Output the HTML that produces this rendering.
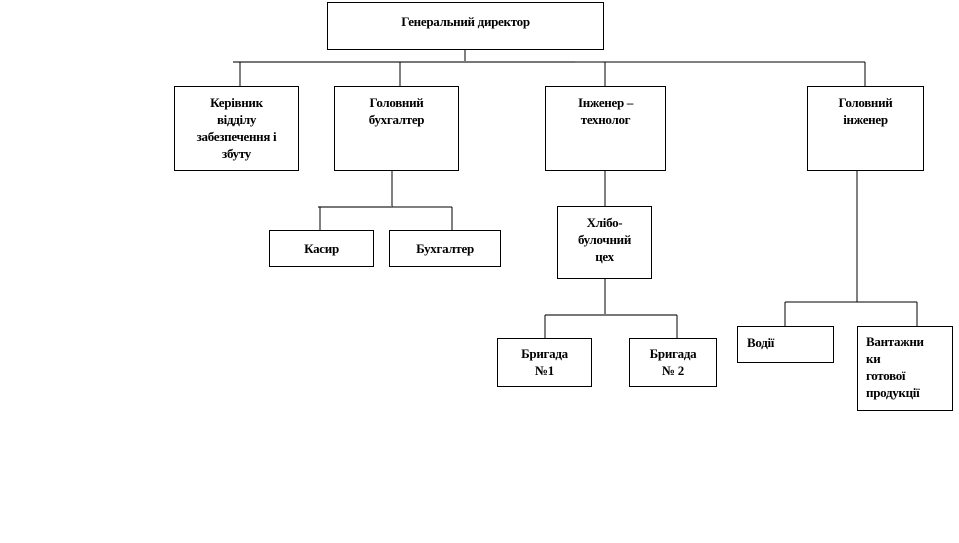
<!DOCTYPE html>
<html><head><meta charset="utf-8"><style>
body{margin:0;width:959px;height:543px;background:#fff;position:relative;overflow:hidden;font-family:"Liberation Serif","DejaVu Serif",serif;font-weight:bold;font-size:13px;color:#000}
.b{position:absolute;border:1px solid #000;box-sizing:border-box;text-align:center;line-height:17px;padding-top:7px;letter-spacing:-0.3px}
svg{position:absolute;left:0;top:0}
</style></head><body>
<svg width="959" height="543">
<g stroke="#000" stroke-width="1" fill="none">
<line x1="465" y1="49" x2="465" y2="62"/>
<line x1="233" y1="62" x2="575" y2="62" stroke="#777" stroke-width="2"/>
<line x1="575" y1="62" x2="865" y2="62"/>
<line x1="240" y1="62" x2="240" y2="86"/>
<line x1="400" y1="62" x2="400" y2="86"/>
<line x1="605" y1="62" x2="605" y2="86"/>
<line x1="865" y1="62" x2="865" y2="86"/>
<line x1="392" y1="170" x2="392" y2="207"/>
<line x1="318" y1="207" x2="392" y2="207" stroke="#777" stroke-width="2"/>
<line x1="392" y1="207" x2="452" y2="207"/>
<line x1="320" y1="207" x2="320" y2="230"/>
<line x1="452" y1="207" x2="452" y2="230"/>
<line x1="605" y1="170" x2="605" y2="206"/>
<line x1="605" y1="278" x2="605" y2="315"/>
<line x1="545" y1="315" x2="677" y2="315" stroke="#777" stroke-width="2"/>
<line x1="545" y1="315" x2="545" y2="338"/>
<line x1="677" y1="315" x2="677" y2="338"/>
<line x1="857" y1="170" x2="857" y2="302"/>
<line x1="785" y1="302" x2="917" y2="302"/>
<line x1="785" y1="302" x2="785" y2="326"/>
<line x1="917" y1="302" x2="917" y2="326"/>
</g></svg>
<div class="b" style="left:327px;top:2px;width:277px;height:48px;padding-top:10px">Генеральний директор</div>
<div class="b" style="left:174px;top:86px;width:125px;height:85px">Керівник<br>відділу<br>забезпечення і<br>збуту</div>
<div class="b" style="left:334px;top:86px;width:125px;height:85px">Головний<br>бухгалтер</div>
<div class="b" style="left:545px;top:86px;width:121px;height:85px">Інженер –<br>технолог</div>
<div class="b" style="left:807px;top:86px;width:117px;height:85px">Головний<br>інженер</div>
<div class="b" style="left:269px;top:230px;width:105px;height:37px;padding-top:9px">Касир</div>
<div class="b" style="left:389px;top:230px;width:112px;height:37px;padding-top:9px">Бухгалтер</div>
<div class="b" style="left:557px;top:206px;width:95px;height:73px">Хлібо-<br>булочний<br>цех</div>
<div class="b" style="left:497px;top:338px;width:95px;height:49px;padding-top:6px">Бригада<br>№1</div>
<div class="b" style="left:629px;top:338px;width:88px;height:49px;padding-top:6px">Бригада<br>№ 2</div>
<div class="b" style="left:737px;top:326px;width:97px;height:37px;text-align:left;padding-left:9px;padding-top:7px">Водії</div>
<div class="b" style="left:857px;top:326px;width:96px;height:85px;text-align:left;padding-left:8px;padding-top:6px">Вантажни<br>ки<br>готової<br>продукції</div>
</body></html>
